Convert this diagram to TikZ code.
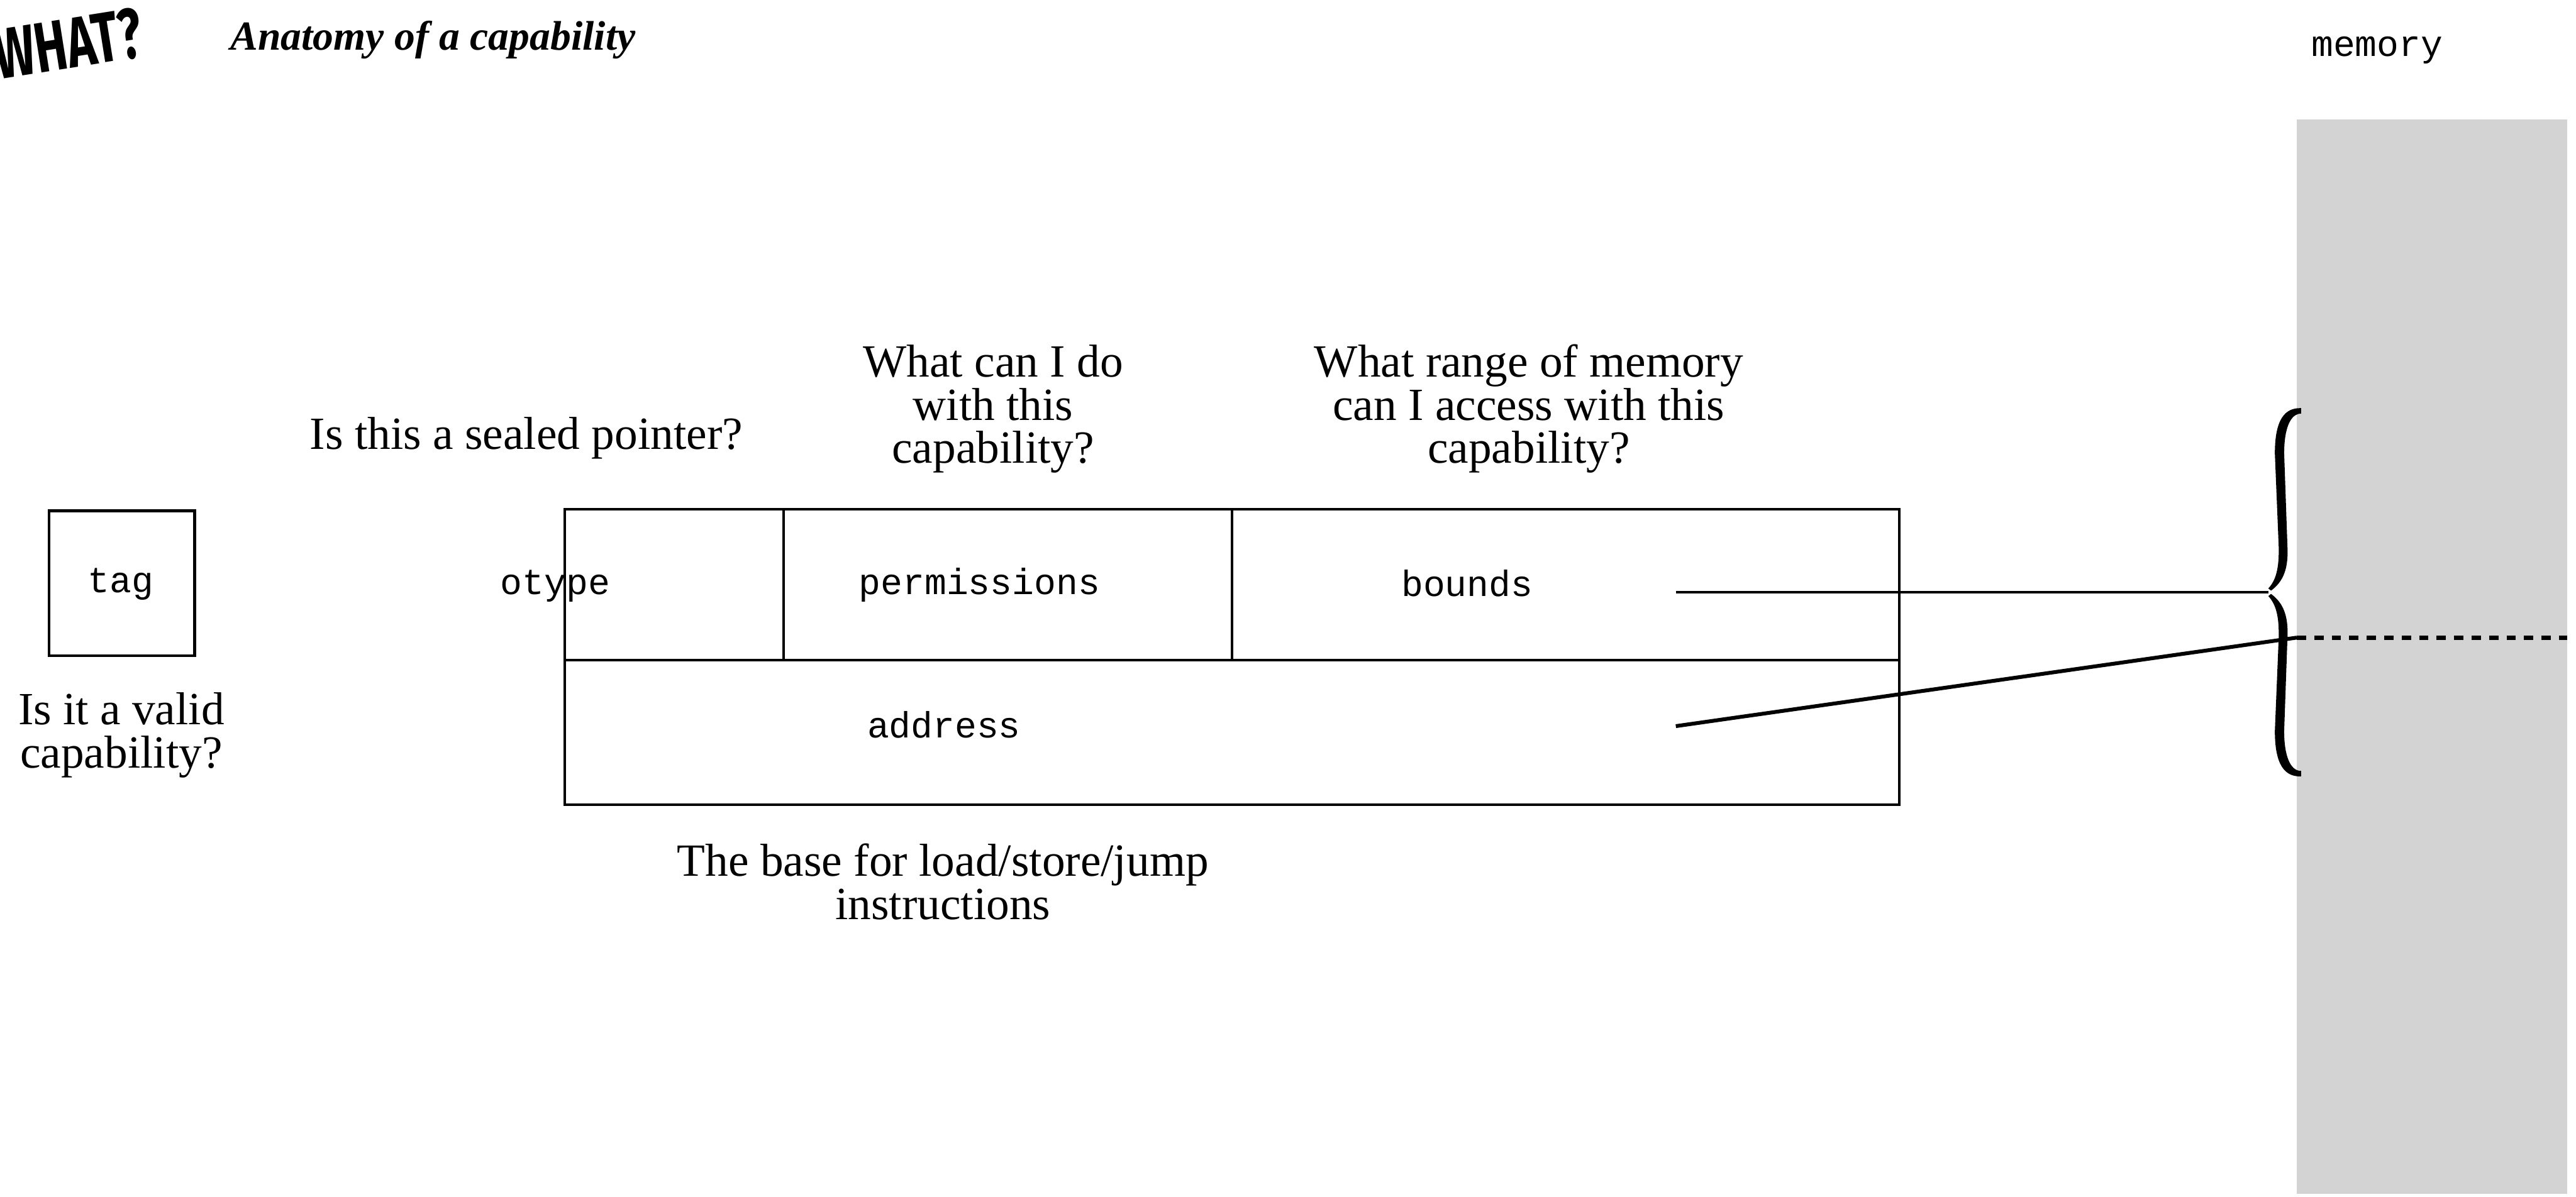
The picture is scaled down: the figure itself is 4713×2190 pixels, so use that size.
\documentclass[tikz,border=0pt]{standalone}
\usepackage{fontspec}
\usepackage{graphicx}
\setmainfont{Liberation Serif}
\newfontfamily\capmono{Liberation Mono}
\newfontfamily\capwhat{Fira Sans}
\definecolor{memgray}{RGB}{211,211,211}
\tikzset{
  cell/.style={draw, line width=0.5mm, inner sep=0pt},
  monolabel/.style={font=\capmono\fontsize{19pt}{22pt}\selectfont, inner sep=0pt, anchor=base},
  question/.style={font=\fontsize{24pt}{22.5pt}\selectfont, align=center, inner sep=0pt, anchor=base},
  link/.style={line width=0.45mm},
}
\begin{document}
\begin{tikzpicture}[x=0.1mm, y=-0.1mm]
\useasboundingbox (0,0) rectangle (4713,2190);

% memory column
\fill[memgray] (4202,219) rectangle (4697,2185);
\node[monolabel] (memlabel) at (4349,103) {memory};

% header
\node[rotate=9, inner sep=0pt, font=\capwhat\bfseries\fontsize{37pt}{40pt}\selectfont] (what) at (124,80) {\scalebox{0.68}[1]{WHAT?}};
\node[anchor=base west, inner sep=0pt, font=\fontsize{21.5pt}{24pt}\selectfont\bfseries\itshape] (title) at (421,92) {Anatomy of a capability};

% tag
\node[cell, minimum width=26.6mm, minimum height=26.5mm] (tagbox) at (223,1067.5) {};
\node[monolabel] (tag) at (221,1084) {tag};
\node[question] (q1) at (222,1405) {Is it a valid\\capability?};

% capability fields
\node[cell, minimum width=40.1mm, minimum height=27.6mm] (otypecell) at (1233.5,1070) {};
\node[cell, minimum width=82mm, minimum height=27.6mm] (permcell) at (1844,1070) {};
\node[cell, minimum width=122.1mm, minimum height=27.6mm] (boundscell) at (2864.5,1070) {};
\node[cell, minimum width=244.2mm, minimum height=26.5mm] (addrcell) at (2254,1340.5) {};

\node[monolabel] (otype) at (1016,1088) {otype};
\node[monolabel] (perms) at (1792,1088) {permissions};
\node[monolabel] (bounds) at (2684,1091) {bounds};
\node[monolabel] (address) at (1727,1350) {address};

% questions
\node[question] (q2) at (963,822) {Is this a sealed pointer?};
\node[question] (q3) at (1817,848) {What can I do\\with this\\capability?};
\node[question] (q4) at (2797,848) {What range of memory\\can I access with this\\capability?};
\node[question] (q5) at (1725,1683) {The base for load/store/jump\\instructions};

% connectors
\coordinate (bstart) at (3066,1084);
\coordinate (btip) at (4150,1084);
\coordinate (astart) at (3066,1329);
\coordinate (aend) at (4202,1167);
\coordinate (mend) at (4697,1167);
\draw[line width=0.42mm] (bstart) -- (btip);
\draw[line width=0.7mm] (astart) -- (aend);
\draw[line width=0.8mm, dash pattern=on 1.7mm off 1.5mm] (aend) -- (mend);

% brace
\fill[line join=round] (4210,747) .. controls (4180,746) and (4162,768) .. (4162,830)
  -- (4169,1000) .. controls (4170,1040) and (4164,1062) .. (4150,1077)
  -- (4155,1081) .. controls (4178,1064) and (4187,1040) .. (4185,1000)
  -- (4179,830) .. controls (4179,785) and (4190,757) .. (4210,757) -- cycle;
\fill[line join=round] (4210,1421) .. controls (4180,1422) and (4162,1400) .. (4162,1338)
  -- (4169,1168) .. controls (4170,1128) and (4164,1106) .. (4150,1091)
  -- (4155,1087) .. controls (4178,1104) and (4187,1128) .. (4185,1168)
  -- (4179,1338) .. controls (4179,1383) and (4190,1411) .. (4210,1411) -- cycle;
\end{tikzpicture}
\end{document}
